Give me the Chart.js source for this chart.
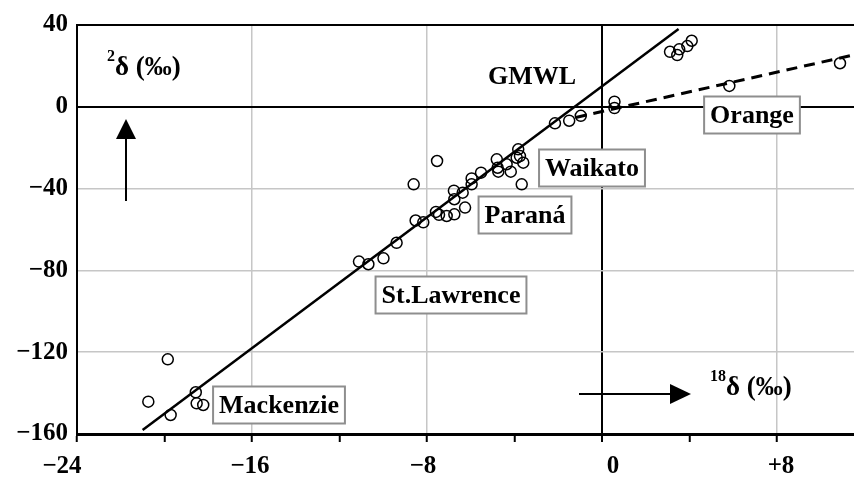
<!DOCTYPE html>
<html>
<head>
<meta charset="utf-8">
<script src="https://cdn.jsdelivr.net/npm/chart.js@4/dist/chart.umd.min.js"></script>
<style>
  html, body { margin: 0; padding: 0; background: #fff; }
  #wrap { width: 854px; height: 479px; }
</style>
</head>
<body>
<div id="wrap"><canvas id="c" width="854" height="479"></canvas></div>
<script>
// River water samples: oxygen-18 and deuterium deltas (per mille)
const sampleO18 = [
  -19.85, -20.74, -19.72, -18.57, -18.53, -18.23,
  -11.11, -10.68, -9.99, -9.39, -8.52, -8.17,
  -8.61, -7.54, -7.59, -7.45, -7.10, -6.75, -6.26, -6.77, -6.75, -6.37,
  -5.96, -5.96, -5.53, -4.81, -4.77, -4.74, -4.36, -4.17, -3.83, -3.90, -3.75, -3.60, -3.67,
  -2.15, -1.50, -0.97, 0.57, 0.57,
  3.11, 3.44, 3.53, 3.90, 4.10, 5.82, 10.88
];
const sampleH2 = [
  -123.5, -144.2, -150.7, -139.6, -145.0, -145.8,
  -75.7, -77.0, -74.1, -66.5, -55.6, -56.5,
  -37.9, -26.5, -51.4, -52.8, -53.4, -52.6, -49.3, -41.0, -45.2, -42.0,
  -35.0, -37.9, -32.2, -25.7, -29.8, -31.7, -28.1, -31.7, -20.8, -24.9, -24.1, -27.3, -37.9,
  -8.1, -6.8, -4.4, 2.5, -0.6,
  26.9, 25.3, 28.1, 29.7, 32.3, 10.2, 21.3
];

// Global meteoric water line (end points)
const gmwlO18 = [-21, 3.5];
const gmwlH2 = [-158, 38];

// Evaporation trend of the Orange river (end points)
const orangeO18 = [-1.2, 11.6];
const orangeH2 = [-5.2, 25.6];

// Axis ticks
const xTickValues = [-24, -20, -16, -12, -8, -4, 0, 4, 8];
const xTickLabels = ['\u221224', '', '\u221216', '', '\u22128', '', '0', '', '+8'];
const yTickValues = [40, 0, -40, -80, -120, -160];
const yTickLabels = ['40', '0', '\u221240', '\u221280', '\u2212120', '\u2212160'];

const riverNames = ['Orange', 'Waikato', 'Paran\u00e1', 'St.Lawrence', 'Mackenzie'];

const SERIF = "'Liberation Serif', 'Times New Roman', serif";
const GRID_GREY = '#c6c6c6';

function pairs(xs, ys) { return xs.map((x, i) => ({ x: x, y: ys[i] })); }

// let the plot area run right up to the canvas edge
Chart.ScatterController.prototype.getMaxOverflow = function () { return 0; };

// x tick labels, set slightly off their ticks as in the printed figure
const xLabelShift = { '-24': -15, '-16': -2, '-8': -4, '0': 11, '8': 4 };
const xTickText = {
  id: 'xTickText',
  afterDraw(chart) {
    const ctx = chart.ctx;
    const sx = chart.scales.x;
    ctx.save();
    ctx.font = 'bold 25px ' + SERIF;
    ctx.fillStyle = '#000';
    ctx.textAlign = 'center';
    ctx.textBaseline = 'middle';
    xTickValues.forEach((v, i) => {
      if (!xTickLabels[i]) return;
      const px = sx.getPixelForValue(v) + (xLabelShift[String(v)] || 0);
      ctx.fillText(xTickLabels[i], px, sx.top + 33);
    });
    ctx.restore();
  }
};

// Text, boxed river names and direction arrows
const decorations = {
  id: 'decorations',
  afterDatasetsDraw(chart) {
    const ctx = chart.ctx;
    ctx.save();
    ctx.fillStyle = '#000';
    ctx.textBaseline = 'alphabetic';

    // boxed river names, [name index, centre x, centre y]
    const boxes = [[0, 752, 115], [1, 592, 168], [2, 525, 215], [3, 451, 295], [4, 279, 405]];
    ctx.font = 'bold 26px ' + SERIF;
    boxes.forEach(([i, cx, cy]) => {
      const w = ctx.measureText(riverNames[i]).width + 12;
      const h = 37;
      ctx.fillStyle = '#fff';
      ctx.fillRect(cx - w / 2, cy - h / 2, w, h);
      ctx.strokeStyle = '#8e8e8e';
      ctx.lineWidth = 2;
      ctx.strokeRect(cx - w / 2, cy - h / 2, w, h);
      ctx.fillStyle = '#000';
      ctx.textAlign = 'center';
      ctx.textBaseline = 'middle';
      ctx.fillText(riverNames[i], cx, cy + 1);
    });

    // line name
    ctx.textAlign = 'center';
    ctx.textBaseline = 'alphabetic';
    ctx.fillText('GMWL', 532, 84);

    // axis quantity names with mass-number superscripts
    function isotopeLabel(mass, x, baseline) {
      ctx.textAlign = 'left';
      ctx.font = 'bold 16px ' + SERIF;
      ctx.fillText(mass, x, baseline - 14);
      const cx = x + ctx.measureText(mass).width;
      ctx.font = 'bold 27px ' + SERIF;
      ctx.fillText('\u03b4 (\u2030)', cx, baseline);
    }
    isotopeLabel('2', 107, 75);
    isotopeLabel('18', 710, 395);

    // arrows
    ctx.strokeStyle = '#000';
    ctx.lineWidth = 2;
    ctx.beginPath();
    ctx.moveTo(126, 201);
    ctx.lineTo(126, 138);
    ctx.stroke();
    ctx.beginPath();
    ctx.moveTo(126, 119);
    ctx.lineTo(116, 139);
    ctx.lineTo(136, 139);
    ctx.closePath();
    ctx.fill();

    ctx.beginPath();
    ctx.moveTo(579, 394);
    ctx.lineTo(672, 394);
    ctx.stroke();
    ctx.beginPath();
    ctx.moveTo(691, 394);
    ctx.lineTo(670, 384);
    ctx.lineTo(670, 404);
    ctx.closePath();
    ctx.fill();

    ctx.restore();
  }
};

new Chart(document.getElementById('c'), {
  type: 'scatter',
  data: {
    datasets: [
      {
        label: 'GMWL',
        data: pairs(gmwlO18, gmwlH2),
        showLine: true,
        borderColor: '#000',
        borderWidth: 2.5,
        pointRadius: 0,
        fill: false
      },
      {
        label: 'Orange',
        data: pairs(orangeO18, orangeH2),
        showLine: true,
        borderColor: '#000',
        borderWidth: 3,
        borderDash: [11, 7],
        pointRadius: 0,
        fill: false
      },
      {
        label: 'samples',
        data: pairs(sampleO18, sampleH2),
        showLine: false,
        pointStyle: 'circle',
        pointRadius: 5.5,
        pointBorderWidth: 1.5,
        pointBorderColor: '#000',
        pointBackgroundColor: 'rgba(0,0,0,0)',
        clip: 8
      }
    ]
  },
  options: {
    responsive: false,
    devicePixelRatio: 1,
    animation: false,
    layout: { padding: { top: 25, right: 0, bottom: 0, left: 0 } },
    plugins: {
      legend: { display: false },
      tooltip: { enabled: false }
    },
    scales: {
      x: {
        type: 'linear',
        min: -24,
        max: 11.52,
        afterBuildTicks: s => { s.ticks = xTickValues.map(v => ({ value: v })); },
        afterFit: s => { s.height = 45; s.paddingLeft = 0; s.paddingRight = 0; },
        ticks: {
          display: false,
          autoSkip: false,
          maxRotation: 0
        },
        grid: {
          color: c => {
            const v = c.tick ? c.tick.value : null;
            if (v === 0) return '#000';
            if (v !== -24 && v % 8 === 0) return GRID_GREY;
            return 'rgba(0,0,0,0)';
          },
          lineWidth: c => (c.tick && c.tick.value === 0 ? 2 : 1.5),
          tickColor: '#000',
          tickWidth: 2,
          tickLength: 8,
          drawTicks: true
        },
        border: { color: '#000', width: 3 }
      },
      y: {
        type: 'linear',
        min: -160,
        max: 40,
        afterBuildTicks: s => { s.ticks = yTickValues.map(v => ({ value: v })); },
        afterFit: s => { s.width = 77; s.paddingTop = 0; s.paddingBottom = 0; },
        ticks: {
          padding: 9,
          color: '#000',
          font: { family: SERIF, size: 25, weight: 'bold' },
          callback: (v, i) => yTickLabels[i]
        },
        grid: {
          color: c => {
            const v = c.tick ? c.tick.value : null;
            if (v === 0 || v === 40) return '#000';
            if (v === -160) return 'rgba(0,0,0,0)';
            return GRID_GREY;
          },
          lineWidth: c => (c.tick && (c.tick.value === 0 || c.tick.value === 40) ? 2 : 1.5),
          drawTicks: false
        },
        border: { color: '#000', width: 2 }
      }
    }
  },
  plugins: [decorations, xTickText]
});
</script>
</body>
</html>
